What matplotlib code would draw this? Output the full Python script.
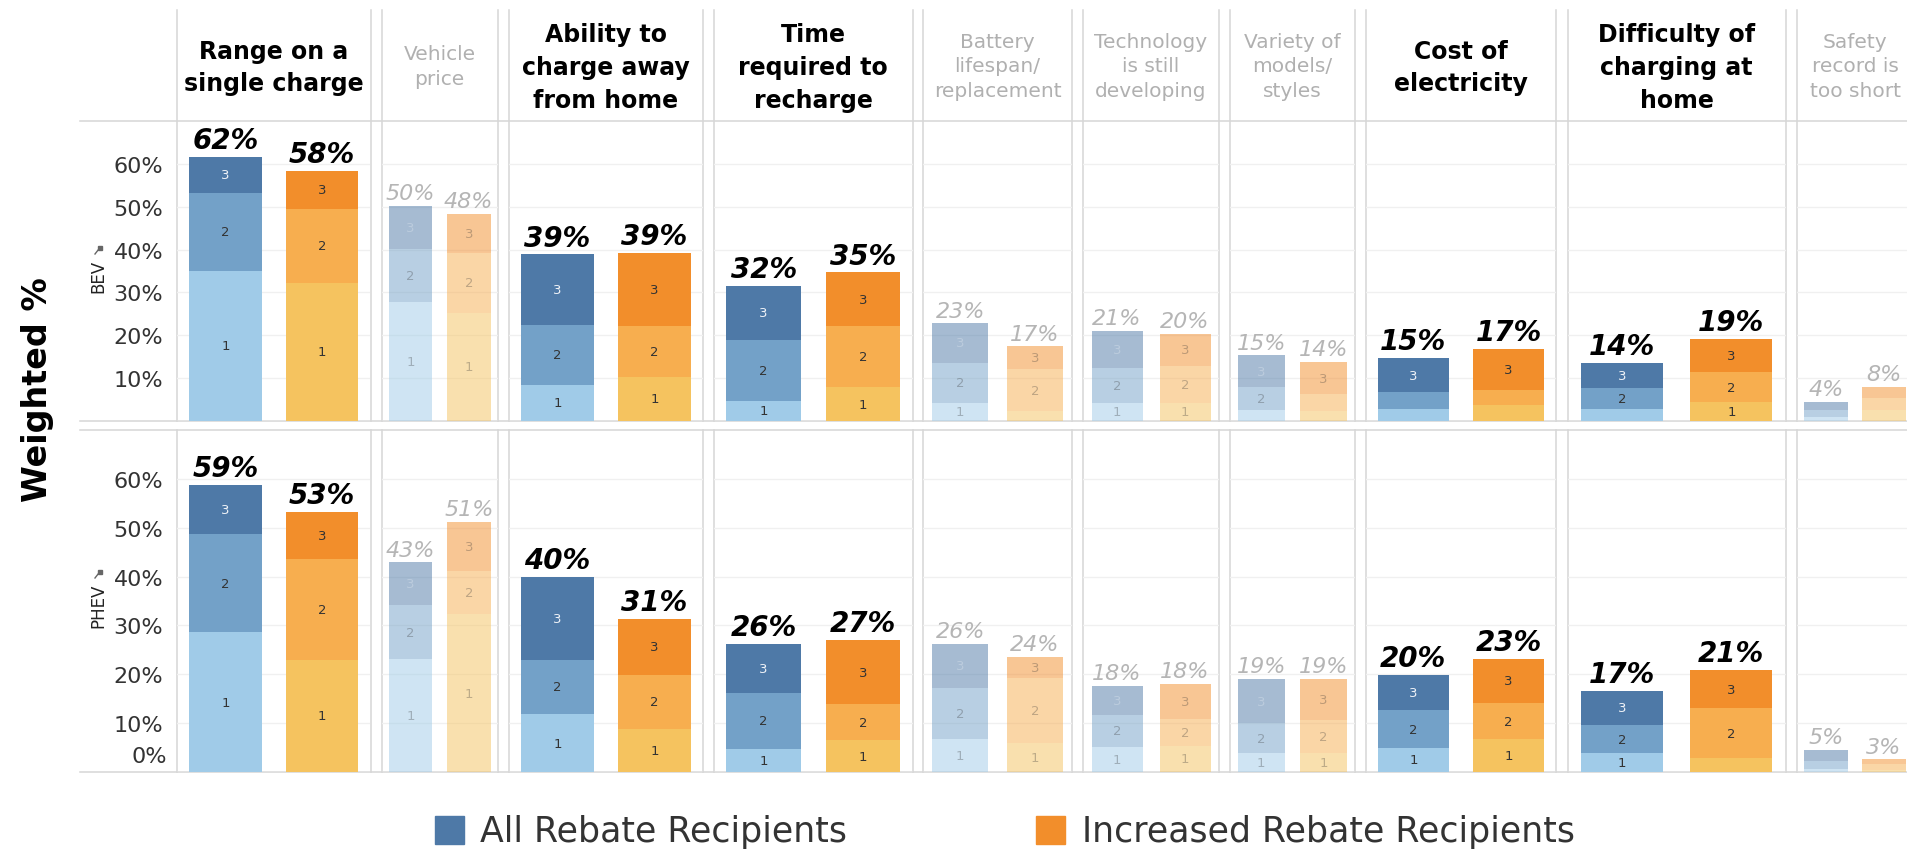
import matplotlib
matplotlib.use('Agg')
import matplotlib.pyplot as plt

W, H = 1907, 854

categories = ['Range on a\nsingle charge', 'Vehicle\nprice', 'Ability to\ncharge away\nfrom home',
              'Time\nrequired to\nrecharge', 'Battery\nlifespan/\nreplacement',
              'Technology\nis still\ndeveloping', 'Variety of\nmodels/\nstyles',
              'Cost of\nelectricity', 'Difficulty of\ncharging at\nhome',
              'Safety\nrecord is\ntoo short']
highlighted = [True, False, True, True, False, False, False, True, True, False]
vehicle_types = ['BEV', 'PHEV']
groups = ['All Rebate Recipients', 'Increased Rebate Recipients']
yticks = [0, 10, 20, 30, 40, 50, 60]

# weighted % per rank (1, 2, 3) for each category
bev_all_1 = [35.1, 27.7, 8.5, 4.7, 4.2, 4.2, 2.6, 2.8, 2.8, 1.0]
bev_all_2 = [18.2, 12.5, 13.9, 14.1, 9.4, 8.2, 5.3, 3.9, 4.8, 1.6]
bev_all_3 = [8.4, 10.0, 16.5, 12.8, 9.2, 8.6, 7.4, 8.0, 6.0, 1.8]
bev_inc_1 = [32.2, 25.3, 10.3, 7.9, 2.3, 4.2, 2.3, 3.8, 4.4, 2.6]
bev_inc_2 = [17.3, 14.0, 11.9, 14.3, 9.8, 8.7, 3.9, 3.5, 7.0, 2.8]
bev_inc_3 = [8.8, 9.1, 17.1, 12.5, 5.3, 7.4, 7.6, 9.6, 7.8, 2.5]
phev_all_1 = [28.6, 23.2, 11.8, 4.8, 6.7, 5.2, 3.9, 5.0, 3.8, 0.6]
phev_all_2 = [20.1, 10.9, 11.2, 11.4, 10.5, 6.4, 6.1, 7.6, 5.9, 1.7]
phev_all_3 = [10.1, 8.8, 16.9, 10.0, 9.1, 6.1, 9.0, 7.3, 6.9, 2.3]
phev_inc_1 = [23.0, 32.3, 8.8, 6.5, 6.0, 5.4, 3.9, 6.7, 2.9, 0.5]
phev_inc_2 = [20.5, 8.9, 11.1, 7.4, 13.2, 5.5, 6.7, 7.4, 10.1, 1.2]
phev_inc_3 = [9.8, 10.0, 11.5, 13.1, 4.4, 7.2, 8.4, 9.1, 7.9, 0.9]

series = {
    'BEV': [[bev_all_1, bev_all_2, bev_all_3], [bev_inc_1, bev_inc_2, bev_inc_3]],
    'PHEV': [[phev_all_1, phev_all_2, phev_all_3], [phev_inc_1, phev_inc_2, phev_inc_3]],
}

blues = ['#a0cbe8', '#73a1c8', '#4e79a7']
oranges = ['#f5c35f', '#f7ae4f', '#f28e2b']
palettes = [blues, oranges]
border = '#d6d6d6'

# layout in pixels
col_x = [(177, 370.5), (381.7, 497.8), (509, 703), (714, 912.6), (923, 1072),
         (1083, 1219), (1230, 1354.6), (1365.8, 1556), (1567.5, 1786), (1797, 1913)]
row_y = [(122, 422), (431, 773)]
head_y = (11, 122)
min_label = [4.0, 3.5]


def rect(x0, x1, y0, y1):
    return [x0 / W, 1 - y1 / H, (x1 - x0) / W, (y1 - y0) / H]


fig = plt.figure(figsize=(W / 100, H / 100), dpi=100)
ax0 = fig.add_axes([0, 0, 1, 1])
ax0.set_xlim(0, W)
ax0.set_ylim(H, 0)
ax0.axis('off')

# frame lines
for y in [head_y[1], row_y[0][1], row_y[1][0], row_y[1][1]]:
    ax0.plot([80, W], [y, y], color=border, lw=1.1)
for x0, x1 in col_x:
    for x in (x0, x1):
        ax0.plot([x, x], [head_y[0], row_y[0][1]], color=border, lw=1.1)
        ax0.plot([x, x], [row_y[1][0], row_y[1][1]], color=border, lw=1.1)

# headers
for c, (x0, x1) in enumerate(col_x):
    if highlighted[c]:
        ax0.text((x0 + x1) / 2, 68, categories[c], ha='center', va='center', fontsize=17,
                 fontweight='bold', color='black', linespacing=1.45)
    else:
        ax0.text((x0 + x1) / 2, 67, categories[c], ha='center', va='center', fontsize=14.5,
                 color='#b0b0b0', linespacing=1.38)

ax0.text(38, 390, 'Weighted %', rotation=90, ha='center', va='center', fontsize=24,
         fontweight='bold', color='black')

for r, vt in enumerate(vehicle_types):
    yc = (row_y[r][0] + row_y[r][1]) / 2
    ax0.text(98, yc + 4, vt, rotation=90, ha='center', va='center', fontsize=12, color='#222')
    tw = 19 if vt == 'BEV' else 25
    py = yc + 4 - tw - 8
    ax0.plot([95, 98.5], [py + 6, py + 1.5], color='#666', lw=1)
    ax0.plot([99.5], [py], marker=(4, 0, 45), ms=5, color='#666')

for r, vt in enumerate(vehicle_types):
    y0, y1 = row_y[r]
    for c, (x0, x1) in enumerate(col_x):
        ax = fig.add_axes(rect(x0, x1, y0, y1))
        ax.set_facecolor('none')
        ax.set_xlim(-0.5, 1.5)
        ax.set_ylim(0, 70)
        for s in ax.spines.values():
            s.set_visible(False)
        ax.set_xticks([])
        ax.set_yticks(yticks)
        ax.yaxis.grid(True, color='#f0f0f0', lw=1)
        ax.set_axisbelow(True)
        ax.tick_params(axis='y', length=0, pad=10, labelsize=16, labelcolor='#333')
        if c == 0:
            labels = ['%d%%' % t for t in yticks]
            labels[0] = ''
            ax.set_yticklabels(labels)
            if r == 1:
                ax.text(-0.5 - 10 / (x1 - x0) * 2, 3.2, '0%', ha='right', va='center',
                        fontsize=16, color='#333')
        else:
            ax.set_yticklabels([])
        alpha = 1.0 if highlighted[c] else 0.5
        for g in range(2):
            segs = [series[vt][g][k][c] for k in range(3)]
            bottom = 0
            for k in range(3):
                ax.bar(g, segs[k], width=0.75, bottom=bottom, color=palettes[g][k],
                       alpha=alpha, linewidth=0)
                if segs[k] >= min_label[r]:
                    tc = '#eef2f7' if (g == 0 and k == 2) else '#333333'
                    ax.text(g, bottom + segs[k] / 2, str(k + 1), ha='center', va='center',
                            fontsize=9.5, color=tc, alpha=1.0 if highlighted[c] else 0.3)
                bottom += segs[k]
            total = sum(segs)
            if highlighted[c]:
                ax.annotate('%d%%' % round(total), (g, total), xytext=(0, 2),
                            textcoords='offset points', ha='center', va='bottom',
                            fontsize=20, fontweight='bold', fontstyle='italic', color='black')
            else:
                ax.annotate('%d%%' % round(total), (g, total), xytext=(0, 2),
                            textcoords='offset points', ha='center', va='bottom',
                            fontsize=16, fontstyle='italic', color='#b5b5b5')

# legend
for g, (sx, tx) in enumerate([(435, 480), (1036, 1082)]):
    ax0.add_patch(plt.Rectangle((sx, 817), 29, 28, color=palettes[g][2]))
    ax0.text(tx, 832, groups[g], ha='left', va='center', fontsize=25, color='#333')

fig.savefig('out.png', dpi=100)
